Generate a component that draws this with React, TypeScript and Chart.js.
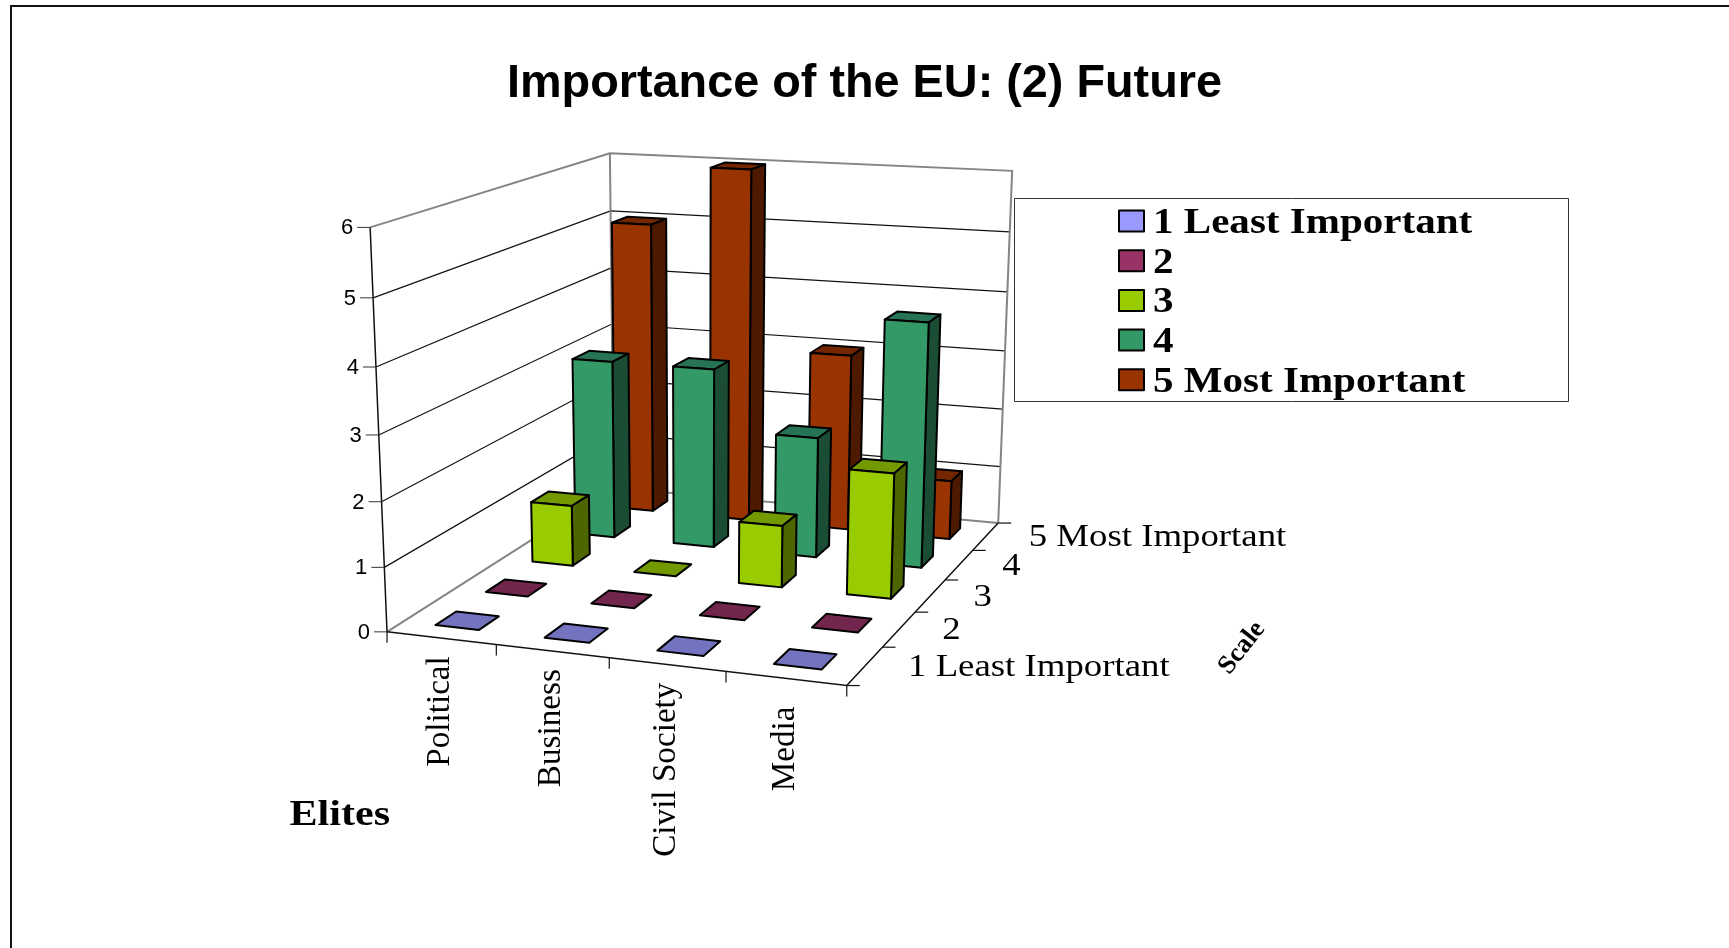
import React, { useEffect, useRef } from "react";
import { Chart, registerables } from "chart.js";

Chart.register(...registerables);

const titleText = "Importance of the EU: (2) Future";
const categories = ["Political", "Business", "Civil Society", "Media"];
const scaleLabels = ["1 Least Important", "2", "3", "4", "5 Most Important"];
const valueTicks = [0, 1, 2, 3, 4, 5, 6];
const xAxisTitle = "Elites";
const depthAxisTitle = "Scale";

const series1 = [0, 0, 0, 0];
const series2 = [0, 0, 0, 0];
const series3 = [1, 0, 1, 2];
const series4 = [3, 3, 2, 4];
const series5 = [5, 6, 3, 1];
const allSeries = [series1, series2, series3, series4, series5];

const frontColors = ["#9999FF", "#993366", "#99CC00", "#339966", "#993300"];
const topColors = ["#7373BF", "#73264D", "#739900", "#267355", "#732600"];
const sideColors = ["#4D4D80", "#4D1A33", "#4D6600", "#1A4D33", "#4D1A00"];

const BAR_FRACTION = 0.4;
const SERIF = '"Liberation Serif", serif';
const SANS = '"Liberation Sans", Arial, sans-serif';
const categoryLabelDrop = [18, 18, 18, 28];

// Camera calibration: where the corners of the unit box (u, depth, height) land on the page.
const boxCorners: number[][] = [
  [0, 0, 0, 387.5, 630.7],
  [1, 0, 0, 846.7, 686.7],
  [0, 1, 0, 613, 489],
  [1, 1, 0, 998.5, 521.7],
  [0, 0, 1, 369.7, 227.5],
  [0, 1, 1, 610.5, 152.7],
  [1, 1, 1, 1011.9, 171.3],
];

function solve(A: number[][], b: number[]) {
  const n = b.length;
  const M = A.map((r, i) => [...r, b[i]]);
  for (let c = 0; c < n; c++) {
    let p = c;
    for (let r = c + 1; r < n; r++) if (Math.abs(M[r][c]) > Math.abs(M[p][c])) p = r;
    [M[c], M[p]] = [M[p], M[c]];
    for (let r = 0; r < n; r++) {
      if (r === c) continue;
      const f = M[r][c] / M[c][c];
      for (let k = c; k <= n; k++) M[r][k] -= f * M[c][k];
    }
  }
  return M.map((r, i) => r[n] / r[i]);
}

function fitCamera(points: number[][]) {
  const rows: number[][] = [];
  const rhs: number[] = [];
  const S = 1000;
  for (const [u, w, h, px, py] of points) {
    const x = px / S;
    const y = py / S;
    rows.push([u, w, h, 1, 0, 0, 0, 0, -x * u, -x * w, -x * h]);
    rhs.push(x);
    rows.push([0, 0, 0, 0, u, w, h, 1, -y * u, -y * w, -y * h]);
    rhs.push(y);
  }
  const n = 11;
  const AtA = Array.from({ length: n }, () => new Array(n).fill(0));
  const Atb = new Array(n).fill(0);
  rows.forEach((r, idx) => {
    for (let i = 0; i < n; i++) {
      Atb[i] += r[i] * rhs[idx];
      for (let j = 0; j < n; j++) AtA[i][j] += r[i] * r[j];
    }
  });
  const m = solve(AtA, Atb);
  return (u: number, w: number, h: number): [number, number] => {
    const d = m[8] * u + m[9] * w + m[10] * h + 1;
    return [
      (S * (m[0] * u + m[1] * w + m[2] * h + m[3])) / d,
      (S * (m[4] * u + m[5] * w + m[6] * h + m[7])) / d,
    ];
  };
}

const project = fitCamera(boxCorners);

function line(ctx: CanvasRenderingContext2D, pts: number[][], color: string, width: number) {
  ctx.beginPath();
  pts.forEach((p, i) => (i ? ctx.lineTo(p[0], p[1]) : ctx.moveTo(p[0], p[1])));
  ctx.strokeStyle = color;
  ctx.lineWidth = width;
  ctx.stroke();
}

function face(ctx: CanvasRenderingContext2D, pts: number[][], fill: string) {
  ctx.beginPath();
  pts.forEach((p, i) => (i ? ctx.lineTo(p[0], p[1]) : ctx.moveTo(p[0], p[1])));
  ctx.closePath();
  ctx.fillStyle = fill;
  ctx.fill();
  ctx.strokeStyle = "#000";
  ctx.lineWidth = 2;
  ctx.lineJoin = "round";
  ctx.stroke();
}

function text(
  ctx: CanvasRenderingContext2D,
  s: string,
  x: number,
  y: number,
  font: string,
  o: { align?: CanvasTextAlign; base?: CanvasTextBaseline; rot?: number; sx?: number } = {}
) {
  ctx.save();
  ctx.font = font;
  ctx.fillStyle = "#000";
  ctx.textAlign = o.align || "left";
  ctx.textBaseline = o.base || "alphabetic";
  ctx.translate(x, y);
  if (o.rot) ctx.rotate(o.rot);
  if (o.sx) ctx.scale(o.sx, 1);
  ctx.fillText(s, 0, 0);
  ctx.restore();
}

const view3d = {
  id: "view3d",
  beforeDatasetsDraw(chart: any) {
    const ctx: CanvasRenderingContext2D = chart.ctx;
    const a = chart.chartArea;
    const xS = chart.scales.x;
    const yS = chart.scales.y;
    const zS = chart.scales.z;
    const U = (px: number) => (px - a.left) / a.width;
    const H = (py: number) => (a.bottom - py) / a.height;
    const W = (pz: number) => (pz - a.left) / a.width;
    const P = project;

    ctx.save();
    // page frame
    line(ctx, [[11, 948], [11, 6], [1729, 6]], "#111", 2);

    // walls
    const gray = "#858585";
    valueTicks.forEach((v) => {
      const h = H(yS.getPixelForValue(v));
      if (v === 0 || v === 6) return;
      line(ctx, [P(0, 0, h), P(0, 1, h), P(1, 1, h)], "#111", 1.2);
    });
    line(ctx, [P(0, 0, 1), P(0, 1, 1), P(1, 1, 1), P(1, 1, 0)], gray, 2);
    line(ctx, [P(0, 1, 1), P(0, 1, 0), P(1, 1, 0)], gray, 2);
    line(ctx, [P(0, 0, 0), P(0, 1, 0)], gray, 2);

    // axes
    line(ctx, [P(0, 0, 1), P(0, 0, 0)], "#111", 1.5);
    line(ctx, [P(0, 0, 0), P(1, 0, 0), P(1, 1, 0)], "#111", 1.5);
    valueTicks.forEach((v) => {
      const [x, y] = P(0, 0, H(yS.getPixelForValue(v)));
      line(ctx, [[x - 13, y], [x, y]], "#333", 1);
      text(ctx, String(v), x - 17, y + 1, `22px ${SANS}`, { align: "right", base: "middle" });
    });
    categories.forEach((c, i) => {
      const step = xS.getPixelForValue(1) - xS.getPixelForValue(0);
      const edge = U(xS.getPixelForValue(i) - step / 2);
      const [tx, ty] = P(edge, 0, 0);
      line(ctx, [[tx, ty], [tx, ty + 11]], "#111", 1.2);
      if (i === categories.length - 1) {
        const [ex, ey] = P(1, 0, 0);
        line(ctx, [[ex, ey], [ex, ey + 11]], "#111", 1.2);
      }
      const [lx, ly] = P(U(xS.getPixelForValue(i)), 0, 0);
      text(ctx, c, lx + 8, ly + categoryLabelDrop[i], `33.2px ${SERIF}`, { align: "right", rot: -Math.PI / 2 });
    });
    const zStep = zS.getPixelForValue(1) - zS.getPixelForValue(0);
    scaleLabels.forEach((s, i) => {
      const e0 = P(1, W(zS.getPixelForValue(i) - zStep / 2), 0);
      line(ctx, [e0, [e0[0] + 13, e0[1]]], "#111", 1.2);
      if (i === scaleLabels.length - 1) {
        const e1 = P(1, 1, 0);
        line(ctx, [e1, [e1[0] + 13, e1[1]]], "#111", 1.2);
      }
      const [lx, ly] = P(1, W(zS.getPixelForValue(i)), 0);
      text(ctx, s, lx + 43, ly + 10, `32px ${SERIF}`, { sx: 1.15 });
    });
    text(ctx, xAxisTitle, 289.5, 825, `bold 36px ${SERIF}`, { sx: 1.17 });
    text(ctx, depthAxisTitle, 1242, 648, `bold 26.5px ${SERIF}`, {
      align: "center",
      base: "middle",
      rot: (-52 * Math.PI) / 180,
    });

    // bars, back row first
    for (let s = allSeries.length - 1; s >= 0; s--) {
      const band = zStep * BAR_FRACTION;
      const w0 = W(zS.getPixelForValue(s) - band / 2);
      const w1 = W(zS.getPixelForValue(s) + band / 2);
      chart.getDatasetMeta(s).data.forEach((el: any) => {
        const u0 = U(el.x - el.width / 2);
        const u1 = U(el.x + el.width / 2);
        const h1 = H(el.y);
        const h0 = H(el.base);
        face(ctx, [P(u0, w0, h1), P(u1, w0, h1), P(u1, w1, h1), P(u0, w1, h1)], topColors[s]);
        if (h1 > h0) {
          face(ctx, [P(u1, w0, h0), P(u1, w1, h0), P(u1, w1, h1), P(u1, w0, h1)], sideColors[s]);
          face(ctx, [P(u0, w0, h0), P(u1, w0, h0), P(u1, w0, h1), P(u0, w0, h1)], frontColors[s]);
        }
      });
    }

    // legend
    ctx.strokeStyle = "#333";
    ctx.lineWidth = 1;
    ctx.strokeRect(1014.5, 198.5, 554, 203);
    scaleLabels.forEach((s, i) => {
      const cy = 221 + i * 39.7;
      ctx.fillStyle = frontColors[i];
      ctx.fillRect(1119, cy - 10.5, 25, 21);
      ctx.strokeStyle = "#000";
      ctx.lineWidth = 2;
      ctx.strokeRect(1119, cy - 10.5, 25, 21);
      text(ctx, s, 1153, cy + 12, `bold 36px ${SERIF}`, { sx: 1.14 });
    });
    ctx.restore();
    return false;
  },
};

export default function App() {
  const ref = useRef<HTMLCanvasElement>(null);
  useEffect(() => {
    const chart = new Chart(ref.current as HTMLCanvasElement, {
      type: "bar",
      data: {
        labels: categories,
        datasets: allSeries.map((d, i) => ({
          label: scaleLabels[i],
          data: d,
          backgroundColor: frontColors[i],
          borderColor: "#000",
          grouped: false,
          barPercentage: BAR_FRACTION,
          categoryPercentage: 1,
        })),
      },
      options: {
        responsive: false,
        animation: false,
        layout: { padding: 0 },
        plugins: {
          legend: { display: false },
          tooltip: { enabled: false },
          title: {
            display: true,
            text: titleText,
            color: "#000",
            font: { family: SANS, size: 46.8, weight: "bold", lineHeight: 1.2 },
            padding: { top: 56, bottom: 10 },
          },
        },
        scales: {
          x: { type: "category", display: false, offset: true },
          y: { type: "linear", display: false, min: 0, max: 6, ticks: { stepSize: 1 } },
          z: { type: "category", axis: "x", display: false, offset: true, labels: scaleLabels },
        },
      } as any,
      plugins: [view3d as any],
    });
    return () => chart.destroy();
  }, []);
  return (
    <div style={{ position: "fixed", left: 0, top: 0, width: 1729, height: 948, background: "#fff" }}>
      <canvas ref={ref} width={1729} height={948} style={{ display: "block" }} />
    </div>
  );
}
